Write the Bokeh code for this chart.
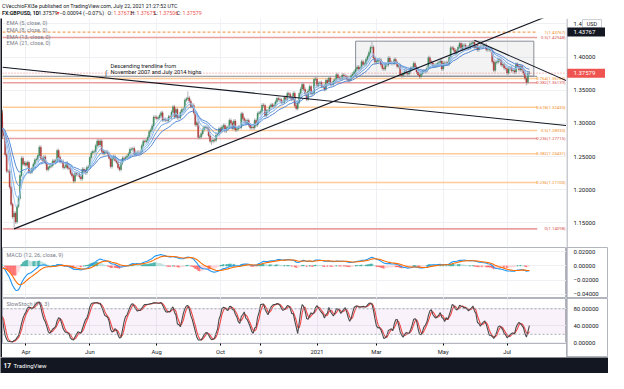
import numpy as np
import pandas as pd
from bokeh.plotting import figure
from bokeh.layouts import column, row
from bokeh.models import Range1d, FixedTicker, Label, Span
from bokeh.core.properties import value
from bokeh.embed import file_html
from bokeh.resources import INLINE

# ---------------- data: GBP/USD daily closes (row = first weekday, closes of consecutive weekdays)
closes_2020_q1 = [
    ("2020-01-02", [1.3145, 1.3080]),
    ("2020-01-06", [1.3160, 1.3115, 1.3105, 1.3065, 1.3060]),
    ("2020-01-13", [1.2990, 1.3020, 1.3035, 1.3075, 1.3015]),
    ("2020-01-20", [1.3000, 1.3040, 1.3130, 1.3120, 1.3075]),
    ("2020-01-27", [1.3045, 1.3005, 1.3000, 1.3080, 1.3200]),
    ("2020-02-03", [1.3000, 1.3015, 1.2995, 1.2920, 1.2890]),
    ("2020-02-10", [1.2915, 1.2950, 1.2970, 1.3045, 1.3045]),
    ("2020-02-17", [1.3010, 1.2995, 1.2920, 1.2870, 1.2960]),
    ("2020-02-24", [1.2935, 1.2995, 1.2890, 1.2880, 1.2820]),
    ("2020-03-02", [1.2770, 1.2790, 1.2850, 1.2905, 1.3045]),
    ("2020-03-09", [1.3030, 1.2875, 1.2820, 1.2530, 1.2280]),
    ("2020-03-16", [1.2280, 1.2040, 1.1780, 1.1590, 1.1645]),
    ("2020-03-23", [1.1515, 1.1750, 1.1870, 1.2215, 1.2475]),
    ("2020-03-30", [1.2385, 1.2405, 1.2370, 1.2410, 1.2265]),
]
closes_2020_q2 = [
    ("2020-04-06", [1.2265, 1.2315, 1.2385, 1.2450, 1.2460]),
    ("2020-04-13", [1.2515, 1.2640, 1.2475, 1.2445, 1.2495]),
    ("2020-04-20", [1.2410, 1.2305, 1.2335, 1.2355, 1.2365]),
    ("2020-04-27", [1.2435, 1.2410, 1.2440, 1.2590, 1.2490]),
    ("2020-05-04", [1.2425, 1.2430, 1.2335, 1.2340, 1.2400]),
    ("2020-05-11", [1.2330, 1.2320, 1.2250, 1.2210, 1.2130]),
    ("2020-05-18", [1.2245, 1.2230, 1.2235, 1.2195, 1.2165]),
    ("2020-05-25", [1.2310, 1.2285, 1.2255, 1.2335, 1.2345]),
    ("2020-06-01", [1.2485, 1.2555, 1.2575, 1.2575, 1.2665]),
    ("2020-06-08", [1.2735, 1.2675, 1.2735, 1.2580, 1.2545]),
    ("2020-06-15", [1.2570, 1.2570, 1.2545, 1.2475, 1.2350]),
    ("2020-06-22", [1.2470, 1.2500, 1.2440, 1.2415, 1.2335]),
    ("2020-06-29", [1.2305, 1.2400, 1.2475, 1.2470, 1.2485]),
]
closes_2020_q3 = [
    ("2020-07-06", [1.2505, 1.2540, 1.2610, 1.2610, 1.2620]),
    ("2020-07-13", [1.2540, 1.2560, 1.2565, 1.2555, 1.2570]),
    ("2020-07-20", [1.2665, 1.2730, 1.2725, 1.2740, 1.2790]),
    ("2020-07-27", [1.2875, 1.2900, 1.2960, 1.3095, 1.3090]),
    ("2020-08-03", [1.3075, 1.3085, 1.3120, 1.3160, 1.3050]),
    ("2020-08-10", [1.3060, 1.3050, 1.3045, 1.3100, 1.3090]),
    ("2020-08-17", [1.3170, 1.3250, 1.3100, 1.3210, 1.3085]),
    ("2020-08-24", [1.3090, 1.3170, 1.3210, 1.3215, 1.3350]),
    ("2020-08-31", [1.3370, 1.3385, 1.3335, 1.3255, 1.3275]),
    ("2020-09-07", [1.3160, 1.2980, 1.3010, 1.2790, 1.2795]),
    ("2020-09-14", [1.2845, 1.2905, 1.2940, 1.2940, 1.2920]),
    ("2020-09-21", [1.2815, 1.2730, 1.2730, 1.2750, 1.2745]),
    ("2020-09-28", [1.2825, 1.2830, 1.2920, 1.2880, 1.2945]),
]
closes_2020_q4 = [
    ("2020-10-05", [1.2970, 1.2885, 1.2935, 1.2945, 1.3045]),
    ("2020-10-12", [1.3005, 1.2925, 1.3035, 1.2900, 1.2915]),
    ("2020-10-19", [1.2950, 1.2940, 1.3145, 1.3075, 1.3040]),
    ("2020-10-26", [1.3010, 1.3045, 1.2975, 1.2935, 1.2945]),
    ("2020-11-02", [1.2935, 1.3045, 1.2975, 1.3150, 1.3160]),
    ("2020-11-09", [1.3180, 1.3275, 1.3270, 1.3120, 1.3190]),
    ("2020-11-16", [1.3195, 1.3250, 1.3280, 1.3255, 1.3275]),
    ("2020-11-23", [1.3325, 1.3375, 1.3365, 1.3355, 1.3315]),
    ("2020-11-30", [1.3320, 1.3390, 1.3360, 1.3450, 1.3440]),
    ("2020-12-07", [1.3385, 1.3365, 1.3455, 1.3265, 1.3225]),
    ("2020-12-14", [1.3320, 1.3450, 1.3520, 1.3585, 1.3515]),
    ("2020-12-21", [1.3445, 1.3365, 1.3490, 1.3555]),
    ("2020-12-28", [1.3450, 1.3455, 1.3665, 1.3670]),
]
closes_2021_q1 = [
    ("2021-01-04", [1.3570, 1.3605, 1.3615, 1.3560, 1.3565]),
    ("2021-01-11", [1.3515, 1.3650, 1.3605, 1.3685, 1.3590]),
    ("2021-01-18", [1.3590, 1.3640, 1.3660, 1.3735, 1.3690]),
    ("2021-01-25", [1.3675, 1.3670, 1.3730, 1.3715, 1.3705]),
    ("2021-02-01", [1.3675, 1.3650, 1.3665, 1.3720, 1.3745]),
    ("2021-02-08", [1.3780, 1.3820, 1.3850, 1.3820, 1.3845]),
    ("2021-02-15", [1.3930, 1.3890, 1.3900, 1.3965, 1.4010]),
    ("2021-02-22", [1.4070, 1.4145, 1.4150, 1.3985, 1.3925]),
    ("2021-03-01", [1.3935, 1.3960, 1.3960, 1.3885, 1.3830]),
    ("2021-03-08", [1.3820, 1.3890, 1.3880, 1.3985, 1.3925]),
    ("2021-03-15", [1.3905, 1.3905, 1.3965, 1.3915, 1.3860]),
    ("2021-03-22", [1.3870, 1.3735, 1.3720, 1.3755, 1.3790]),
    ("2021-03-29", [1.3760, 1.3745, 1.3785, 1.3830, 1.3835]),
]
closes_2021_q2 = [
    ("2021-04-05", [1.3905, 1.3850, 1.3775, 1.3730, 1.3705]),
    ("2021-04-12", [1.3750, 1.3775, 1.3790, 1.3785, 1.3830]),
    ("2021-04-19", [1.3990, 1.3930, 1.3910, 1.3875, 1.3875]),
    ("2021-04-26", [1.3880, 1.3905, 1.3915, 1.3940, 1.3820]),
    ("2021-05-03", [1.3910, 1.3905, 1.3915, 1.3900, 1.3995]),
    ("2021-05-10", [1.4140, 1.4135, 1.4105, 1.4055, 1.4090]),
    ("2021-05-17", [1.4150, 1.4205, 1.4120, 1.4180, 1.4180]),
    ("2021-05-24", [1.4145, 1.4150, 1.4140, 1.4200, 1.4205]),
    ("2021-05-31", [1.4225, 1.4145, 1.4180, 1.4110, 1.4155]),
    ("2021-06-07", [1.4165, 1.4155, 1.4175, 1.4180, 1.4110]),
    ("2021-06-14", [1.4110, 1.4115, 1.4100, 1.3930, 1.3800]),
    ("2021-06-21", [1.3920, 1.3925, 1.3960, 1.3950, 1.3880]),
    ("2021-06-28", [1.3890, 1.3835, 1.3830, 1.3760, 1.3830]),
]
closes_2021_q3 = [
    ("2021-07-05", [1.3835, 1.3795, 1.3805, 1.3775, 1.3890]),
    ("2021-07-12", [1.3865, 1.3810, 1.3860, 1.3805, 1.3760]),
    ("2021-07-19", [1.3680, 1.3620, 1.3760, 1.37579]),
]
high_marks = {"2020-03-09": 1.3200, "2020-09-01": 1.3482, "2020-12-17": 1.3625,
              "2021-02-24": 1.4241, "2021-06-01": 1.4250}
low_marks = {"2020-03-20": 1.14098, "2020-09-23": 1.2676, "2021-07-20": 1.3572}
WICK = 0.0030

# Fibonacci levels (2018 high / 2020 low) and (2014 high / 2020 low)
fib_orange_levels = ["0.236", "0.382", "0.5", "0.618", "0.764"]
fib_orange_prices = [1.21100, 1.25431, 1.28933, 1.32433, 1.36765]
fib_top_label, fib_top_price = "1", 1.43767
fib_red_levels = ["0", "0.236", "0.382", "0.5"]
fib_red_prices = [1.14098, 1.27715, 1.36139, 1.42948]
support_line = 1.3711
box_dates, box_top, box_bottom = ("2021-02-09", 3), 1.4240, 1.3711
asc_trend = [("2020-03-20", 1.1410), ("2021-02-04", 1.3437)]
desc_long = [("2020-03-10", 1.3848), ("2021-07-22", 1.3026)]
desc_short = [("2021-06-01", 1.4254), ("2021-07-22", 1.3890)]
last_price = 1.37579

tick_dates = ["2020-04-01", "2020-06-01", "2020-08-03", "2020-10-01", "2020-11-09",
              "2021-01-04", "2021-03-01", "2021-05-03", "2021-07-01"]
tick_labels = ["Apr", "Jun", "Aug", "Oct", "9", "2021", "Mar", "May", "Jul"]
price_ticks = [1.15, 1.20, 1.25, 1.30, 1.35, 1.40, 1.45]
macd_ticks = [-0.04, -0.02, 0.0, 0.02]
stoch_ticks = [0, 40, 80]

# ---------------- build series
rows_all = (closes_2020_q1 + closes_2020_q2 + closes_2020_q3 + closes_2020_q4
            + closes_2021_q1 + closes_2021_q2 + closes_2021_q3)
dl, cl = [], []
for start, vals in rows_all:
    dl.extend(pd.bdate_range(start, periods=len(vals)))
    cl.extend(vals)
dates = pd.DatetimeIndex(dl)
close = np.array(cl)
n = len(close)
xs = np.arange(n)


def bar(d):
    d = pd.Timestamp(d)
    if d <= dates[-1]:
        return int(dates.searchsorted(d))
    return n - 1 + len(pd.bdate_range(dates[-1], d)) - 1


opn = np.concatenate([[close[0]], close[:-1]])
high = np.maximum(opn, close) + WICK
low = np.minimum(opn, close) - WICK
for d, v in high_marks.items():
    high[bar(d)] = v
for d, v in low_marks.items():
    low[bar(d)] = v


def ema(s, k):
    return pd.Series(s).ewm(span=k, adjust=False).mean().values


ema5, ema8, ema13, ema21 = ema(close, 5), ema(close, 8), ema(close, 13), ema(close, 21)
macd = ema(close, 12) - ema(close, 26)
sig = pd.Series(macd).ewm(span=9, adjust=False).mean().values
hist = macd - sig
ll = pd.Series(low).rolling(14).min()
hh = pd.Series(high).rolling(14).max()
kraw = 100 * (pd.Series(close) - ll) / (hh - ll)
k_slow = kraw.rolling(3).mean().values
d_slow = pd.Series(k_slow).rolling(3).mean().values

# ---------------- layout constants
FW = 564          # panel (frame) width
RB = 42           # price-scale gutter width
H_MAIN, H_MACD, H_ST, H_AX = 229, 51, 45, 14
FONT = "Roboto"
DARK = "#131722"
SEP = "#b2b5be"
x0 = bar("2020-03-11") - 0.8
x1 = n - 1 + 25
line_end = n - 1 + 5.3
xr = Range1d(x0, x1)
tick_x = [bar(d) for d in tick_dates]
GRID = "#eef0f4"
yr_main = Range1d(1.1129, 1.4582)
yr_macd = Range1d(-0.0459, 0.0259)
yr_st = Range1d(-1.6, 104.2)


def panel(height, yr, yticks, bottom=0):
    p = figure(width=FW, height=height + bottom, x_range=xr, y_range=yr,
               y_axis_location=None, x_axis_location="below", toolbar_location=None,
               output_backend="svg", min_border_left=0, min_border_right=0,
               min_border_top=0, min_border_bottom=bottom)
    p.ygrid.ticker = FixedTicker(ticks=yticks)
    p.xgrid.ticker = FixedTicker(ticks=tick_x)
    p.grid.grid_line_color = GRID
    p.outline_line_color = SEP
    p.background_fill_color = "white"
    p.border_fill_color = "white"
    return p


def fmt5(t):
    return f"{t:.5f}".replace("-", "\u2212")


def gutter(height, yr, yticks):
    g = figure(width=RB, height=height, x_range=Range1d(0, RB), y_range=yr,
               x_axis_location=None, y_axis_location=None, toolbar_location=None,
               output_backend="svg", min_border_left=0, min_border_right=0,
               min_border_top=0, min_border_bottom=0, outline_line_color=SEP,
               background_fill_color="white", border_fill_color="white")
    g.grid.visible = False
    g.add_layout(Span(location=0.5, dimension="height", line_color="#9598a1", line_width=1))
    g.text(x=[7] * len(yticks), y=yticks, text=[fmt5(t) for t in yticks], text_font=value(FONT),
           text_font_size="6px", text_color=DARK, text_baseline="middle")
    return g


# ---------------- header
hdr = figure(width=608, height=18, x_range=Range1d(0, 608), y_range=Range1d(0, 18),
             x_axis_location=None, y_axis_location=None, toolbar_location=None,
             output_backend="svg", min_border=0, outline_line_color=None)
hdr.grid.visible = False
hdr.text(x=[1.5], y=[13], text=["CVecchioFXl3e published on TradingView.com, July 22, 2021 21:27:52 UTC"],
         text_font=value(FONT), text_font_size="5.3px", text_color=DARK, text_baseline="middle")
hdr.text(x=[1.5], y=[6], text=["FX:GBPUSD, 1D"], text_font=value(FONT), text_font_size="5.3px",
         text_font_style="bold", text_color=DARK, text_baseline="middle")
hdr_parts = [(38, "1.37579", DARK), (55, "\u25bc", "#ef5350"), (59, "\u22120.00094 (\u22120.07%)", DARK),
             (107, "O:", DARK), (113, "1.37673", "#ef5350"), (130, "H:", DARK), (136, "1.37675", "#ef5350"),
             (153.5, "L:", DARK), (158.5, "1.37506", "#ef5350"), (176, "C:", DARK), (182, "1.37579", "#ef5350")]
hdr.text(x=[a for a, _, _ in hdr_parts], y=[6] * len(hdr_parts), text=[b for _, b, _ in hdr_parts],
         text_color=[c for _, _, c in hdr_parts], text_font=value(FONT), text_font_size="5.3px",
         text_baseline="middle")

# ---------------- main price panel
p = panel(H_MAIN, yr_main, price_ticks)
p.xaxis.visible = False
p.outline_line_color = None

bx0 = bar(box_dates[0])
bx1 = n - 1 + box_dates[1]
p.quad(left=[bx0], right=[bx1], top=[box_top], bottom=[box_bottom], fill_color="#787b86",
       fill_alpha=0.09, line_color="#8a8d96", line_width=1)
p.segment(x0=[x0], x1=[line_end], y0=[support_line], y1=[support_line], line_color="#8a8d96", line_width=1)
p.segment(x0=[x0] * len(fib_orange_prices), x1=[line_end] * len(fib_orange_prices),
          y0=fib_orange_prices, y1=fib_orange_prices, line_color="#ffcc99", line_width=1.6)
p.segment(x0=[x0], x1=[line_end], y0=[fib_top_price], y1=[fib_top_price], line_color="#f7a35c",
          line_width=1.2, line_dash="3 2")
p.segment(x0=[x0] * len(fib_red_prices), x1=[line_end] * len(fib_red_prices),
          y0=fib_red_prices, y1=fib_red_prices, line_color="#e8a0a0", line_width=1.6)
p.segment(x0=[x0], x1=[x1], y0=[last_price], y1=[last_price], line_color="#ef5350",
          line_alpha=0.7, line_width=1, line_dash="1 2")
lab_x = x1 - 0.6
p.text(x=[lab_x] * len(fib_orange_prices), y=fib_orange_prices,
       text=[f"{a}({b:.5f})" for a, b in zip(fib_orange_levels, fib_orange_prices)],
       text_align="right", text_baseline="middle", text_font=value(FONT), text_font_size="4.3px",
       text_color="#f08a24")
p.text(x=[lab_x], y=[fib_top_price], text=[f"{fib_top_label}({fib_top_price:.5f})"],
       text_align="right", text_baseline="middle", text_font=value(FONT), text_font_size="4.3px",
       text_color="#f08a24")
p.text(x=[lab_x] * len(fib_red_prices), y=fib_red_prices,
       text=[f"{a}({b:.5f})" for a, b in zip(fib_red_levels, fib_red_prices)],
       text_align="right", text_baseline="middle", text_font=value(FONT), text_font_size="4.3px",
       text_color="#d9534f")

up = close >= opn
dn = ~up
body_top = np.maximum(opn, close)
body_bot = np.minimum(opn, close)
p.segment(x0=xs, x1=xs, y0=low, y1=high, line_color="#a3a6ad", line_width=0.8)
p.vbar(x=xs[up], top=body_top[up], bottom=body_bot[up], width=0.7, fill_color="#3a8c5c",
       line_color="#3a8c5c", line_width=0.5)
p.vbar(x=xs[dn], top=body_top[dn], bottom=body_bot[dn], width=0.7, fill_color="#b23a3a",
       line_color="#b23a3a", line_width=0.5)
for series, col in [(ema21, "#3f7bd1"), (ema13, "#5a95de"), (ema8, "#7aaee8"), (ema5, "#a3c9f1")]:
    p.line(xs, series, line_color=col, line_width=0.9)


def trend(pts, full=False):
    (da, pa), (db, pb) = pts
    xa, xb = bar(da), bar(db)
    slope = (pb - pa) / (xb - xa)
    start = x0 if full else xa
    return [start, x1], [pa + slope * (start - xa), pa + slope * (x1 - xa)]


for pts, full in [(asc_trend, False), (desc_long, True), (desc_short, False)]:
    tx, ty = trend(pts, full)
    p.line(tx, ty, line_color=DARK, line_width=1.1)

ann_x = bar("2020-06-19")
p.text(x=[ann_x, ann_x], y=[1.3866, 1.3779],
       text=["Descending trendline from", "November 2007 and July 2014 highs"],
       text_font=value(FONT), text_font_size="5.6px", text_color=DARK, text_baseline="middle")
p.text(x=[bar("2020-06-16")], y=[1.3765], text=["\u0283"], text_font=value("DejaVu Sans"),
       text_font_size="6px", text_color=DARK, text_baseline="middle", text_align="center")

for i, lbl in enumerate(["EMA (5, close, 0)", "EMA (8, close, 0)", "EMA (13, close, 0)", "EMA (21, close, 0)"]):
    p.add_layout(Label(x=4, y=224.2 - 6.7 * i, x_units="screen", y_units="screen", text=lbl,
                       text_font=FONT, text_font_size="5.5px", text_color="#787b86",
                       text_baseline="middle"))

g_main = gutter(H_MAIN, yr_main, price_ticks)
g_main.outline_line_color = None
g_main.rect(x=[25.5], y=[1.4505], width=19, height=8, height_units="screen", fill_color="white",
            line_color="#c9ccd3", line_width=1)
g_main.text(x=[25.5], y=[1.4505], text=["USD"], text_font=value(FONT), text_font_size="5.5px",
            text_color=DARK, text_align="center", text_baseline="middle")
g_main.rect(x=[19.5, 19.5], y=[last_price, fib_top_price], width=38, height=9, height_units="screen",
            fill_color=["#ef5350", DARK], line_color=None)
g_main.text(x=[7, 7], y=[last_price, fib_top_price], text=[fmt5(last_price), fmt5(fib_top_price)],
            text_font=value(FONT), text_font_size="6px", text_color="white", text_baseline="middle")

# ---------------- MACD panel
m = panel(H_MACD, yr_macd, macd_ticks)
m.xaxis.visible = False
hist_prev = np.concatenate([[hist[0]], hist[:-1]])
hcol = np.where(hist >= 0, np.where(hist >= hist_prev, "#26a69a", "#b2dfdb"),
                np.where(hist < hist_prev, "#ff5252", "#ffcdd2"))
m.vbar(x=xs, top=hist, bottom=0, width=0.8, fill_color=hcol, line_color=hcol, fill_alpha=0.55,
       line_alpha=0.55)
m.line(xs, macd, line_color="#2196f3", line_width=1.1)
m.line(xs, sig, line_color="#ff6d00", line_width=1.1)
m.add_layout(Label(x=4, y=44, x_units="screen", y_units="screen", text="MACD (12, 26, close, 9)",
                   text_font=FONT, text_font_size="5.5px", text_color="#787b86", text_baseline="middle"))
g_macd = gutter(H_MACD, yr_macd, macd_ticks)

# ---------------- Slow stochastic panel
s = panel(H_ST, yr_st, stoch_ticks, bottom=H_AX)
s.quad(left=[x0], right=[x1], bottom=[20], top=[80], fill_color="#9c27b0", fill_alpha=0.06,
       line_color=None)
for lv in (20, 80):
    s.add_layout(Span(location=lv, dimension="width", line_color="#9598a1", line_width=0.8,
                      line_dash="2 2"))
s.line(xs, d_slow, line_color="#f04747", line_width=1.1)
s.line(xs, k_slow, line_color="#4a4a4a", line_width=1.1)
s.add_layout(Label(x=4, y=40, x_units="screen", y_units="screen", text="SlowStoch (14, 3)",
                   text_font=FONT, text_font_size="5.5px", text_color="#787b86", text_baseline="middle"))
s.xaxis.ticker = FixedTicker(ticks=tick_x)
s.xaxis.major_label_overrides = {t: l for t, l in zip(tick_x, tick_labels)}
s.xaxis.major_label_text_font = FONT
s.xaxis.major_label_text_font_size = "5.8px"
s.xaxis.major_label_text_color = DARK
s.xaxis.major_tick_out = 2
s.xaxis.major_tick_in = 0
s.xaxis.minor_tick_out = 0
s.xaxis.minor_tick_in = 0
s.xaxis.major_label_standoff = 3
s.xaxis.axis_line_color = SEP
st_per_px = (yr_st.end - yr_st.start) / H_ST
g_st = gutter(H_ST + H_AX, Range1d(yr_st.start - H_AX * st_per_px, yr_st.end), stoch_ticks)

# ---------------- left strip and footer
strip = figure(width=2, height=H_MAIN + H_MACD + H_ST + H_AX, x_range=Range1d(0, 1), y_range=Range1d(0, 1),
               x_axis_location=None, y_axis_location=None, toolbar_location=None,
               output_backend="svg", min_border=0, outline_line_color=None,
               background_fill_color=DARK, border_fill_color=DARK)
strip.grid.visible = False

ftr = figure(width=608, height=16, x_range=Range1d(0, 608), y_range=Range1d(0, 16),
             x_axis_location=None, y_axis_location=None, toolbar_location=None,
             output_backend="svg", min_border=0, outline_line_color=None,
             background_fill_color=DARK, border_fill_color=DARK)
ftr.grid.visible = False
ftr.text(x=[3], y=[8], text=["17"], text_font=value(FONT), text_font_size="6.5px",
         text_font_style="bold", text_color="white", text_baseline="middle")
ftr.text(x=[13], y=[8], text=["TradingView"], text_font=value(FONT), text_font_size="6px",
         text_color="white", text_baseline="middle")

layout = column(hdr, row(strip, column(p, m, s), column(g_main, g_macd, g_st)), ftr)
open("out.html", "w").write(file_html(layout, INLINE))
